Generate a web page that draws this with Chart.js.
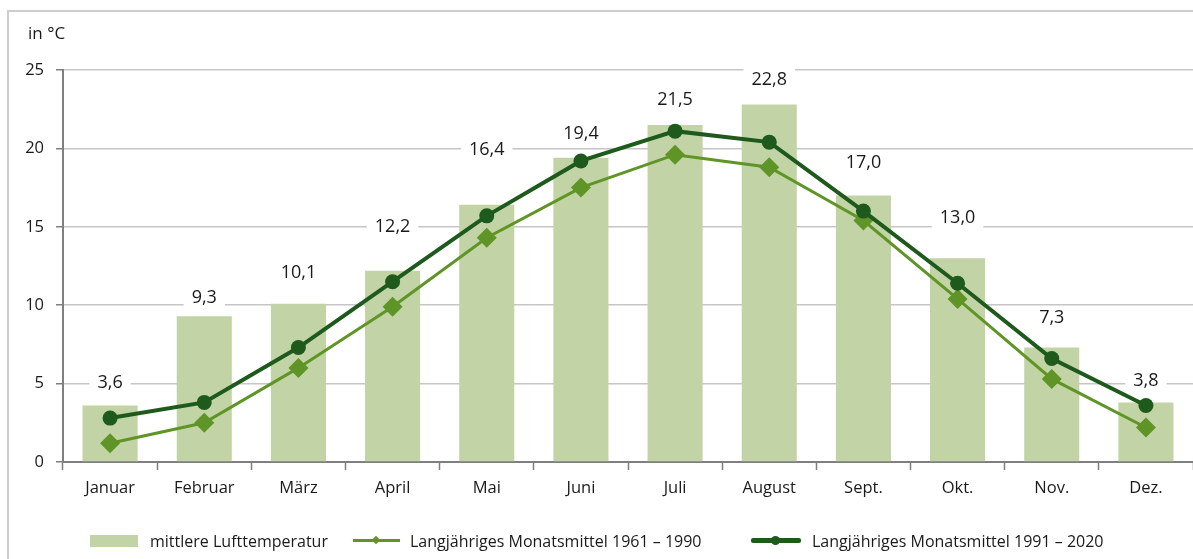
<!DOCTYPE html>
<html>
<head>
<meta charset="utf-8">
<script src="https://cdn.jsdelivr.net/npm/chart.js@4"></script>
<style>
  body { margin: 0; background: #fff; overflow: hidden; font-family: "Open Sans", sans-serif; color: #1a1a1a; }
  #wrap { position: relative; width: 1193px; height: 559px; overflow: hidden; }
  #frame { position: absolute; left: 7px; top: 10px; width: 1200px; height: 600px;
           border-left: 2px solid #cdcdcd; border-top: 2px solid #cdcdcd; pointer-events: none; }
  #unit { position: absolute; left: 28px; top: 21px; font-size: 17px; }
  .leg { position: absolute; top: 530px; height: 22px; font-size: 16px; line-height: 22px; white-space: nowrap; }
  .sw { position: absolute; }
</style>
</head>
<body>
<div id="wrap">
  <canvas id="tempChart" width="1193" height="559"></canvas>
  <div id="frame"></div>
  <div id="unit">in °C</div>
  <div id="legend"></div>
</div>
<script>
const months = ["Januar", "Februar", "März", "April", "Mai", "Juni", "Juli", "August", "Sept.", "Okt.", "Nov.", "Dez."];
const meanTemp = [3.6, 9.3, 10.1, 12.2, 16.4, 19.4, 21.5, 22.8, 17.0, 13.0, 7.3, 3.8];
const mean1961_1990 = [1.2, 2.5, 6.0, 9.9, 14.3, 17.5, 19.6, 18.8, 15.4, 10.4, 5.3, 2.2];
const mean1991_2020 = [2.8, 3.8, 7.3, 11.5, 15.7, 19.2, 21.1, 20.4, 16.0, 11.4, 6.6, 3.6];
const yTicks = [0, 5, 10, 15, 20, 25];

const seriesNames = ["mittlere Lufttemperatur", "Langjähriges Monatsmittel 1961 – 1990", "Langjähriges Monatsmittel 1991 – 2020"];

const barColor = "#c2d3a5";
const lightGreen = "#5f9526";
const darkGreen = "#1d5a1c";

// how far above each bar top its value label sits (px)
const labelLift = [23, 18, 31, 44, 55, 24, 25, 25, 33, 40, 30, 22];

const barLabels = {
  id: "barLabels",
  beforeDatasetsDraw(chart) {
    const ctx = chart.ctx;
    const meta = chart.getDatasetMeta(0);
    ctx.save();
    ctx.font = '18px "Open Sans"';
    ctx.textAlign = "center";
    ctx.textBaseline = "middle";
    meta.data.forEach((bar, i) => {
      const txt = meanTemp[i].toFixed(1).replace(".", ",");
      const w = ctx.measureText(txt).width + 16;
      const y = bar.y - labelLift[i];
      ctx.fillStyle = "#fff";
      ctx.fillRect(bar.x - w / 2, y - 11, w, 22);
      ctx.fillStyle = "#1a1a1a";
      ctx.fillText(txt, bar.x, y);
    });
    ctx.restore();
  }
};

const ctx = document.getElementById("tempChart").getContext("2d");
const chart = new Chart(ctx, {
  type: "bar",
  data: {
    labels: months,
    datasets: [
      {
        type: "bar",
        label: seriesNames[0],
        data: meanTemp,
        backgroundColor: barColor,
        barPercentage: 0.585,
        categoryPercentage: 1,
        order: 3
      },
      {
        type: "line",
        label: seriesNames[1],
        data: mean1961_1990,
        borderColor: lightGreen,
        backgroundColor: lightGreen,
        borderWidth: 3,
        pointStyle: "rectRot",
        pointRadius: 10,
        pointBorderWidth: 0,
        tension: 0,
        order: 2
      },
      {
        type: "line",
        label: seriesNames[2],
        data: mean1991_2020,
        borderColor: darkGreen,
        backgroundColor: darkGreen,
        borderWidth: 4,
        pointStyle: "circle",
        pointRadius: 7.5,
        pointBorderWidth: 0,
        tension: 0,
        order: 1
      }
    ]
  },
  options: {
    responsive: false,
    animation: false,
    layout: { autoPadding: false, padding: { top: 70, right: 0, bottom: 0, left: 0 } },
    plugins: {
      legend: { display: false },
      tooltip: { enabled: false }
    },
    scales: {
      x: {
        offset: true,
        grid: { drawOnChartArea: false, offset: true, tickLength: 8, tickColor: "#7f7f7f", tickWidth: 1.5 },
        border: { color: "#7f7f7f", width: 2 },
        ticks: { color: "#1a1a1a", font: { family: "Open Sans", size: 16.5 }, padding: 8, maxRotation: 0 },
        afterFit: s => { s.height = 97; s.paddingLeft = 0; s.paddingRight = 0; }
      },
      y: {
        min: 0,
        max: 25,
        afterBuildTicks: s => { s.ticks = yTicks.map(v => ({ value: v })); },
        grid: { color: "#c6c6c6", lineWidth: 1.5, tickLength: 7, tickColor: "#7f7f7f", tickWidth: 1.5 },
        border: { color: "#7f7f7f", width: 2 },
        ticks: { color: "#1a1a1a", font: { family: "Open Sans", size: 16.5 }, padding: 12 },
        afterFit: s => { s.width = 63; s.paddingTop = 0; s.paddingBottom = 0; }
      }
    }
  },
  plugins: [barLabels]
});

// legend drawn as html below the chart
const legend = document.getElementById("legend");
legend.innerHTML =
  '<div class="sw" style="left:90px;top:535px;width:48px;height:12px;background:' + barColor + '"></div>' +
  '<div class="leg" style="left:150px">' + seriesNames[0] + '</div>' +
  '<div class="sw" style="left:353px;top:539px;width:47px;height:3px;background:' + lightGreen + '"></div>' +
  '<div class="sw" style="left:373px;top:537px;width:6px;height:6px;background:' + lightGreen + ';transform:rotate(45deg)"></div>' +
  '<div class="leg" style="left:410px">' + seriesNames[1] + '</div>' +
  '<div class="sw" style="left:751px;top:538px;width:50px;height:5px;border-radius:2px;background:' + darkGreen + '"></div>' +
  '<div class="sw" style="left:771px;top:536px;width:9px;height:9px;border-radius:50%;background:' + darkGreen + '"></div>' +
  '<div class="leg" style="left:812px">' + seriesNames[2] + '</div>';
</script>
</body>
</html>
